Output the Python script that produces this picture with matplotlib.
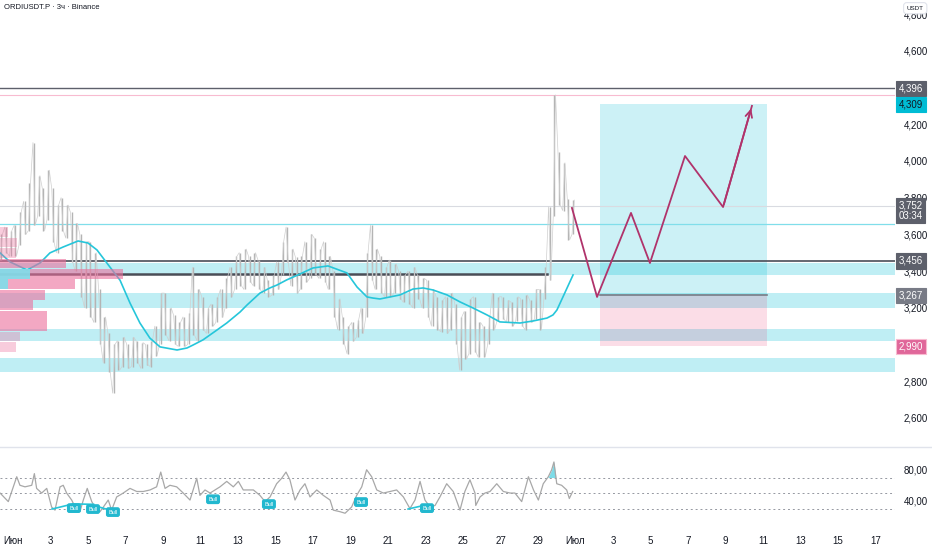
import numpy as np
import matplotlib.pyplot as plt
import matplotlib.transforms as mtransforms

plt.rcParams['font.family'] = ['Liberation Sans', 'DejaVu Sans']

title = 'ORDIUSDT.P · 3ч · Binance'

# price bars, 4 per day (6h), from day 0 to day 30 of June
bar_low = [3430, 3460, 3500, 3480,   3480, 3540, 3600, 3620,   3650, 3700, 3620, 3680,
           3560, 3500, 3620, 3580,   3450, 3400, 3260, 3200,   3150, 3120, 3000, 2900,
           2850, 2735, 2860, 2880,   2870, 2880, 2900, 2870,   2890, 2880, 2940, 3000,
           3050, 3020, 3000, 2990,   2990, 3000, 3050, 3020,   3080, 3060, 3100, 3120,
           3150, 3200, 3260, 3300,   3320, 3300, 3340, 3320,   3300, 3280, 3260, 3270,
           3300, 3380, 3450, 3320,   3280, 3300, 3340, 3360,   3380, 3360, 3340, 3300,
           3150, 3080, 3000, 2950,   3020, 3040, 3060, 3150,   3350, 3300, 3280, 3260,
           3260, 3280, 3250, 3230,   3220, 3200, 3250, 3200,   3150, 3100, 3080, 3070,
           3062, 3080, 3000, 2860,   2920, 2950, 2960, 2930,   2932, 3000, 3080, 3130,
           3140, 3120, 3100, 3130,   3100, 3080, 3120, 3140,   3080, 3250, 3350, 3700,
           3760, 3730, 3570, 3600]
bar_high = [3560, 3600, 3640, 3620,  3650, 3720, 3780, 3880,   4100, 3920, 3850, 3950,
            3850, 3760, 3800, 3760,  3720, 3660, 3600, 3560,   3560, 3500, 3300, 3150,
            3060, 3000, 3020, 3040,  3000, 3040, 3020, 3010,   3000, 3020, 3100, 3280,
            3280, 3200, 3160, 3120,  3150, 3170, 3420, 3300,   3260, 3200, 3220, 3260,
            3300, 3360, 3420, 3480,  3500, 3520, 3480, 3500,   3460, 3420, 3350, 3380,
            3450, 3560, 3640, 3520,  3475, 3480, 3560, 3600,   3580, 3520, 3560, 3480,
            3400, 3250, 3150, 3100,  3120, 3134, 3200, 3500,   3650, 3520, 3480, 3420,
            3460, 3440, 3400, 3380,  3400, 3420, 3380, 3360,   3350, 3300, 3260, 3240,
            3260, 3280, 3220, 3150,  3180, 3250, 3260, 3120,   3100, 3150, 3280, 3260,
            3260, 3240, 3230, 3260,  3250, 3270, 3240, 3300,   3300, 3420, 3750, 4360,
            4050, 3990, 3790, 3787]

# moving average (day, price)
ma_days = [0.31, 0.84, 1.75, 2.44, 2.97, 3.67, 4.47, 5.0, 5.48, 6.17, 6.71, 7.24, 7.77,
           8.3, 8.84, 9.75, 10.28, 10.6, 11.13, 11.88, 12.4, 13.11, 13.48, 14.17, 14.7,
           15.08, 15.6, 16.2, 17.0, 17.8, 18.81, 19.35, 19.88, 20.2, 20.57, 21.64, 22.33,
           22.87, 23.4, 24.15, 24.84, 25.53, 26.28, 26.97, 28.04, 28.73, 29.48, 29.8,
           30.01, 30.33, 30.87]
ma_vals = [3499, 3450, 3406, 3444, 3499, 3531, 3564, 3553, 3515, 3422, 3350, 3226, 3117,
           3035, 2987, 2970, 2981, 2997, 3025, 3079, 3117, 3177, 3215, 3280, 3308,
           3324, 3352, 3379, 3417, 3428, 3390, 3313, 3259, 3253, 3248, 3270, 3302,
           3308, 3297, 3270, 3232, 3199, 3161, 3123, 3117, 3128, 3144, 3161,
           3188, 3259, 3379]

# support / resistance zones
zone_lo = [3380, 3200, 3019, 2850]
zone_hi = [3444, 3280, 3085, 2926]

level_top = 4396
level_mid = 3456
level_ray = 3384
ray_end_day = 29.5
level_cyan = 3657
last_price = 3752
high_price = 4362

# long position
entry = 3267
target = 4309
stop = 2990
pos_start, pos_end = 32.3, 41.2

# projected path
path_days = [30.81, 32.15, 33.96, 34.97, 36.84, 38.87, 40.41]
path_vals = [3744, 3259, 3717, 3444, 4027, 3749, 4300]

# volume profile rows
vp_price = [3613, 3556, 3499, 3442, 3385, 3328, 3271, 3214, 3157, 3100, 3043, 2986]
vp_vol = [8, 17, 16, 66, 123, 75, 45, 33, 47, 47, 20, 16]
vp_up = [0, 0, 0, 0, 30, 8, 0, 0, 0, 0, 0, 0]
vp_in_area = [0, 0, 0, 1, 1, 1, 1, 1, 1, 1, 0, 0]

# RSI
rsi_days = [0.31, 0.75, 1.2, 1.37, 1.64, 2.0, 2.14, 2.26, 2.53, 2.8, 3.06, 3.24, 3.51,
            3.68, 3.86, 4.13, 4.31, 4.57, 4.75, 4.96, 5.2, 5.46, 5.64, 5.82, 6.08, 6.26,
            6.53, 6.88, 7.24, 7.6, 7.95, 8.31, 8.66, 8.88, 9.11, 9.37, 9.73, 10.08, 10.44,
            10.8, 10.97, 11.24, 11.51, 12.04, 12.4, 12.75, 13.02, 13.28, 13.82, 14.17,
            14.44, 14.71, 15.06, 15.33, 15.56, 15.77, 16.04, 16.31, 16.57, 16.84, 17.2,
            17.55, 17.91, 18.08, 18.44, 18.71, 19.06, 19.33, 19.6, 19.86, 20.13, 20.4,
            20.75, 21.11, 21.46, 21.82, 22.17, 22.44, 22.71, 22.97, 23.24, 23.51, 23.77,
            24.13, 24.48, 24.84, 25.1, 25.37, 25.64, 25.68, 25.91, 26.17, 26.44, 26.8,
            27.15, 27.51, 27.77, 28.13, 28.49, 28.76, 29.02, 29.28, 29.55, 29.73, 29.85,
            30.0, 30.26, 30.53, 30.67, 30.85]
rsi_vals = [50, 39, 71, 60, 58, 60, 75, 56, 50, 56, 32, 28, 58,
            60, 50, 41, 32, 26, 41, 56, 39, 28, 26, 32, 41, 28,
            45, 50, 56, 52, 52, 54, 58, 77, 56, 60, 58, 50, 41,
            69, 47, 54, 50, 58, 65, 58, 65, 54, 54, 47,
            39, 45, 62, 69, 77, 67, 41, 54, 62, 45, 54,
            47, 41, 28, 26, 24, 32, 47, 58, 80, 71, 54,
            50, 52, 54, 45, 30, 41, 65, 41, 32, 34, 45,
            62, 52, 28, 52, 67, 50, 34, 45, 50, 52, 62,
            52, 50, 50, 39, 71, 54, 41, 62, 71, 80, 90,
            62, 60, 54, 43, 52]

# bullish divergence marks
div_lines = [((3.08, 29.4), (4.2, 36)), ((4.2, 36), (5.3, 35.5)),
             ((5.6, 32), (6.17, 28)), ((22.07, 29.4), (23.08, 35))]
bull_days = [4.25, 5.27, 6.33, 11.67, 14.65, 19.56, 23.08]
bull_vals = [30.6, 29.4, 25.5, 42, 35.8, 38.4, 30.6]

date_pos = [1, 3, 5, 7, 9, 11, 13, 15, 17, 19, 21, 23, 25, 27, 29,
            31, 33, 35, 37, 39, 41, 43, 45, 47]
date_lbl = ['Июн', '3', '5', '7', '9', '11', '13', '15', '17', '19', '21', '23', '25',
            '27', '29', 'Июл', '3', '5', '7', '9', '11', '13', '15', '17']

price_ticks = [2600, 2800, 3200, 3400, 3600, 3800, 4000, 4200, 4600, 4800]

CYAN = '#00bcd4'
TXT = '#131722'
GREY = '#b4b4b4'

fig = plt.figure(figsize=(9.32, 5.5), dpi=100)
W = 895 / 932
ax = fig.add_axes([0, 1 - 448 / 550, W, 448 / 550])
ax2 = fig.add_axes([0, 22 / 550, W, 80 / 550], sharex=ax)

ax.set_xlim(0.307, 48.04)
ax.set_ylim(2436, 4877)
ax2.set_ylim(5, 108)

for a in (ax, ax2):
    for s in a.spines.values():
        s.set_visible(False)

# zones
for lo, hi in zip(zone_lo, zone_hi):
    ax.axhspan(lo, hi, color=CYAN, alpha=0.25, lw=0, zorder=1)

# long position box
ax.fill_between([pos_start, pos_end], entry, target, color=CYAN, alpha=0.2, lw=0, zorder=1)
ax.fill_between([pos_start, pos_end], stop, entry, color='#e91e63', alpha=0.15, lw=0, zorder=1)
ax.plot([pos_start, pos_end], [entry, entry], color='#787b86', lw=1.2, zorder=2)

# levels
ax.axhline(level_top, color='#5d606b', lw=1.0, zorder=2)
ax.axhline(high_price, color='#f8bbd0', lw=0.8, zorder=2)
ax.axhline(level_mid, color='#4a4d57', lw=1.2, zorder=2)
ax.plot([0.307, ray_end_day], [level_ray, level_ray], color='#4a4d57', lw=1.8, zorder=2)
ax.axhline(level_cyan, color='#80deea', lw=0.9, zorder=2)
ax.axhline(last_price, color='#d9dbe1', lw=0.8, zorder=2)

# candles: high-low wicks plus a fine jagged trace through them
bar_days = np.arange(len(bar_low)) * 0.25 + 0.125
ax.vlines(bar_days, bar_low, bar_high, color=GREY, lw=1.0, zorder=3)
trace_x, trace_y = [], []
for i, (d, lo, hi) in enumerate(zip(bar_days, bar_low, bar_high)):
    trace_x += [d - 0.06, d + 0.06]
    trace_y += [hi, lo] if i % 2 == 0 else [lo, hi]
ax.plot(trace_x, trace_y, color='#cfcfcf', lw=0.5, zorder=3)

# moving average
ax.plot(ma_days, ma_vals, color='#26c6da', lw=1.2, zorder=4)

# volume profile
vp_tr = mtransforms.blended_transform_factory(ax.transAxes, ax.transData)
for p, v, u, va in zip(vp_price, vp_vol, vp_up, vp_in_area):
    ax.barh(p, v / 895, height=53, left=0, transform=vp_tr,
            color='#ec6f9c', alpha=0.6 if va else 0.35, lw=0, zorder=5)
    if u:
        ax.barh(p, u / 895, height=53, left=0, transform=vp_tr,
                color='#80deea', alpha=0.9, lw=0, zorder=5)

# projected path
PATH = '#b0336b'
ax.plot(path_days, path_vals, color=PATH, lw=1.3, zorder=6)
ax.annotate('', xy=(path_days[-1], path_vals[-1]), xytext=(path_days[-2], path_vals[-2]),
            arrowprops=dict(arrowstyle='->', color=PATH, lw=1.3, mutation_scale=12),
            zorder=6)

# price axis
ax.yaxis.tick_right()
ax.set_yticks(price_ticks)
ax.set_yticklabels(['{:,}'.format(t) for t in price_ticks])
ax.tick_params(axis='y', length=0, pad=6, labelsize=7, labelcolor=TXT)
ax.tick_params(axis='x', bottom=False, labelbottom=False)

tag_tr = mtransforms.blended_transform_factory(ax.transAxes, ax.transData)


def tag(y, text, fc, tc='white', ec=None):
    ax.text(1.004, y, text, transform=tag_tr, ha='left', va='center', fontsize=7,
            color=tc, linespacing=1.05, clip_on=False, zorder=10,
            bbox=dict(boxstyle='square,pad=0.28', fc=fc, ec=ec or fc, lw=0.8))


tag(level_top, '4,396', '#5d606b')
tag(target, '4,309', '#00bcd4', tc=TXT)
tag(last_price - 22, '3,752\n03:34', '#5d606b')
tag(level_mid, '3,456', '#5d606b')
tag(entry, '3,267', '#787b86')
tag(stop, '2,990', '#e0679a', ec='#f8bbd0')

# RSI panel
for lv in (70, 50, 30):
    ax2.axhline(lv, color='#9598a1', lw=0.7, ls=(0, (2, 3)), zorder=1)
rsi_d = np.array(rsi_days)
rsi_v = np.array(rsi_vals)
ax2.plot(rsi_d, rsi_v, color='#a8a8a8', lw=0.9, zorder=3)
ax2.fill_between(rsi_d, rsi_v, 70, where=(rsi_d > 29.3) & (rsi_v >= 70),
                 interpolate=True, color='#26c6da', alpha=0.6, lw=0, zorder=2)
for (x0, y0), (x1, y1) in div_lines:
    ax2.plot([x0, x1], [y0, y1], color='#26c6da', lw=1.2, zorder=4)
for d, v in zip(bull_days, bull_vals):
    ax2.text(d, v, 'Bull', fontsize=4, color='white', ha='center', va='center', zorder=5,
             bbox=dict(boxstyle='round,pad=0.3', fc='#22b8cf', ec='#22b8cf'))

ax2.yaxis.tick_right()
ax2.set_yticks([80, 40])
ax2.set_yticklabels(['80,00', '40,00'])
ax2.tick_params(axis='y', length=0, pad=6, labelsize=7, labelcolor=TXT)
ax2.set_xticks(date_pos)
ax2.set_xticklabels(date_lbl)
ax2.tick_params(axis='x', length=0, pad=6, labelsize=7, labelcolor=TXT)

# panel separators and header
fig.add_artist(plt.Line2D([0, 1], [1 - 447 / 550] * 2, color='#e0e3eb', lw=1))
fig.text(0.004, 0.987, title, fontsize=5.5, color=TXT, va='center', ha='left')
fig.text(0.982, 0.985, 'USDT', fontsize=4.5, color=TXT, va='center', ha='center', zorder=20,
         bbox=dict(boxstyle='round,pad=0.5', fc='white', ec='#e0e3eb', lw=0.8))

fig.savefig('out.png', dpi=100, facecolor='white')
